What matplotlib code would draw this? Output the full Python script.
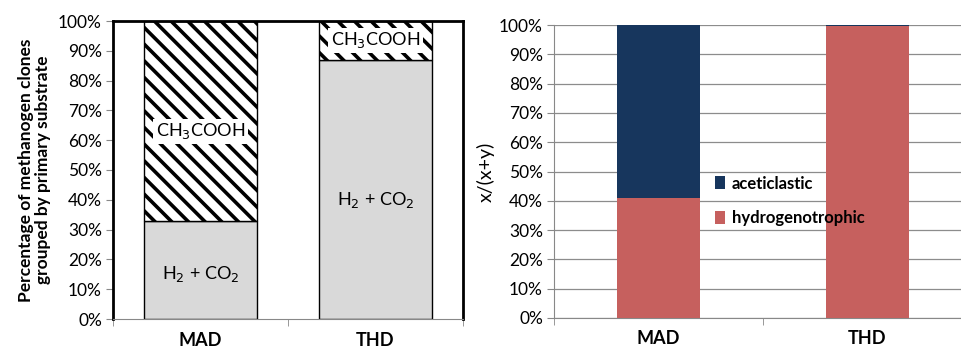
import matplotlib.pyplot as plt
import numpy as np

plt.rcParams['font.family'] = ['Lato', 'DejaVu Sans']

categories = ['MAD', 'THD']

# left panel: substrate fractions (%)
h2_co2 = [33, 87]
ch3cooh = [67, 13]

# right panel: x/(x+y) (%)
hydrogenotrophic = [41, 99.6]
aceticlastic = [59, 0.4]

fig = plt.figure(figsize=(9.62, 3.5), dpi=100)
pct = [f'{v}%' for v in range(0, 101, 10)]

# ---- left panel
ax1 = fig.add_axes([113 / 962, 31 / 350, 350 / 962, 298 / 350])
x = np.arange(len(categories))
ax1.bar(x, h2_co2, 0.65, color='#d9d9d9', edgecolor='black', linewidth=1)
plt.rcParams['hatch.linewidth'] = 2.6
ax1.bar(x, ch3cooh, 0.65, bottom=h2_co2, color='white', edgecolor='black',
        linewidth=1, hatch='\\\\')

ax1.set_xlim(-0.5, 1.5)
ax1.set_ylim(0, 100)
ax1.set_yticks(np.arange(0, 101, 10))
ax1.set_yticklabels(pct, fontsize=12.5)
ax1.set_xticks(x)
ax1.set_xticklabels(categories, fontsize=13, fontweight='bold')
ax1.set_xticks([-0.5, 0.5, 1.5], minor=True)
ax1.tick_params(axis='x', which='major', length=0, pad=9)
ax1.tick_params(axis='x', which='minor', length=5, color='#888888')
ax1.tick_params(axis='y', length=5, color='#888888', pad=3)
for s in ['left', 'top', 'right']:
    ax1.spines[s].set_linewidth(2)
ax1.spines['bottom'].set_color('#888888')
ax1.set_ylabel('Percentage of methanogen clones\ngrouped by primary substrate',
               fontsize=12.5, fontweight='bold', labelpad=5, linespacing=1.1)

box = dict(facecolor='white', edgecolor='none', pad=2)
ax1.text(0, 63, 'CH$_3$COOH', ha='center', va='center', fontsize=13, bbox=box)
ax1.text(0, 15, 'H$_2$ + CO$_2$', ha='center', va='center', fontsize=13)
ax1.text(1, 93.5, 'CH$_3$COOH', ha='center', va='center', fontsize=13, bbox=box)
ax1.text(1, 40, 'H$_2$ + CO$_2$', ha='center', va='center', fontsize=13)

# ---- right panel
ax2 = fig.add_axes([554 / 962, 32 / 350, 418 / 962, 293 / 350])
ax2.bar(x, hydrogenotrophic, 0.4, color='#c6605e', label='hydrogenotrophic',
        zorder=3)
ax2.bar(x, aceticlastic, 0.4, bottom=hydrogenotrophic, color='#17365d',
        label='aceticlastic', zorder=3)
ax2.set_xlim(-0.5, 1.5)
ax2.set_ylim(0, 100)
ax2.set_yticks(np.arange(0, 101, 10))
ax2.set_yticklabels(pct, fontsize=12.5)
ax2.yaxis.grid(True, color='#8c8c8c', linewidth=0.9, zorder=0)
ax2.set_xticks(x)
ax2.set_xticklabels(categories, fontsize=13, fontweight='bold')
ax2.set_xticks([-0.5, 0.5, 1.5], minor=True)
ax2.tick_params(axis='x', which='major', length=0, pad=9)
ax2.tick_params(axis='x', which='minor', length=5, color='#888888')
ax2.tick_params(axis='y', length=5, color='#888888', pad=3)
for s in ['top', 'right']:
    ax2.spines[s].set_visible(False)
ax2.spines['left'].set_color('#888888')
ax2.spines['bottom'].set_color('#888888')
ax2.set_ylabel('x/(x+y)', fontsize=14, labelpad=3)

handles, labels = ax2.get_legend_handles_labels()
leg = ax2.legend(handles[::-1], labels[::-1], loc='center left',
                 bbox_to_anchor=(0.35, 0.40), frameon=False, fontsize=12,
                 handlelength=0.6, handleheight=0.8, handletextpad=0.4,
                 labelspacing=1.1)
for t in leg.get_texts():
    t.set_fontweight('bold')

fig.savefig('out.png', dpi=100)
